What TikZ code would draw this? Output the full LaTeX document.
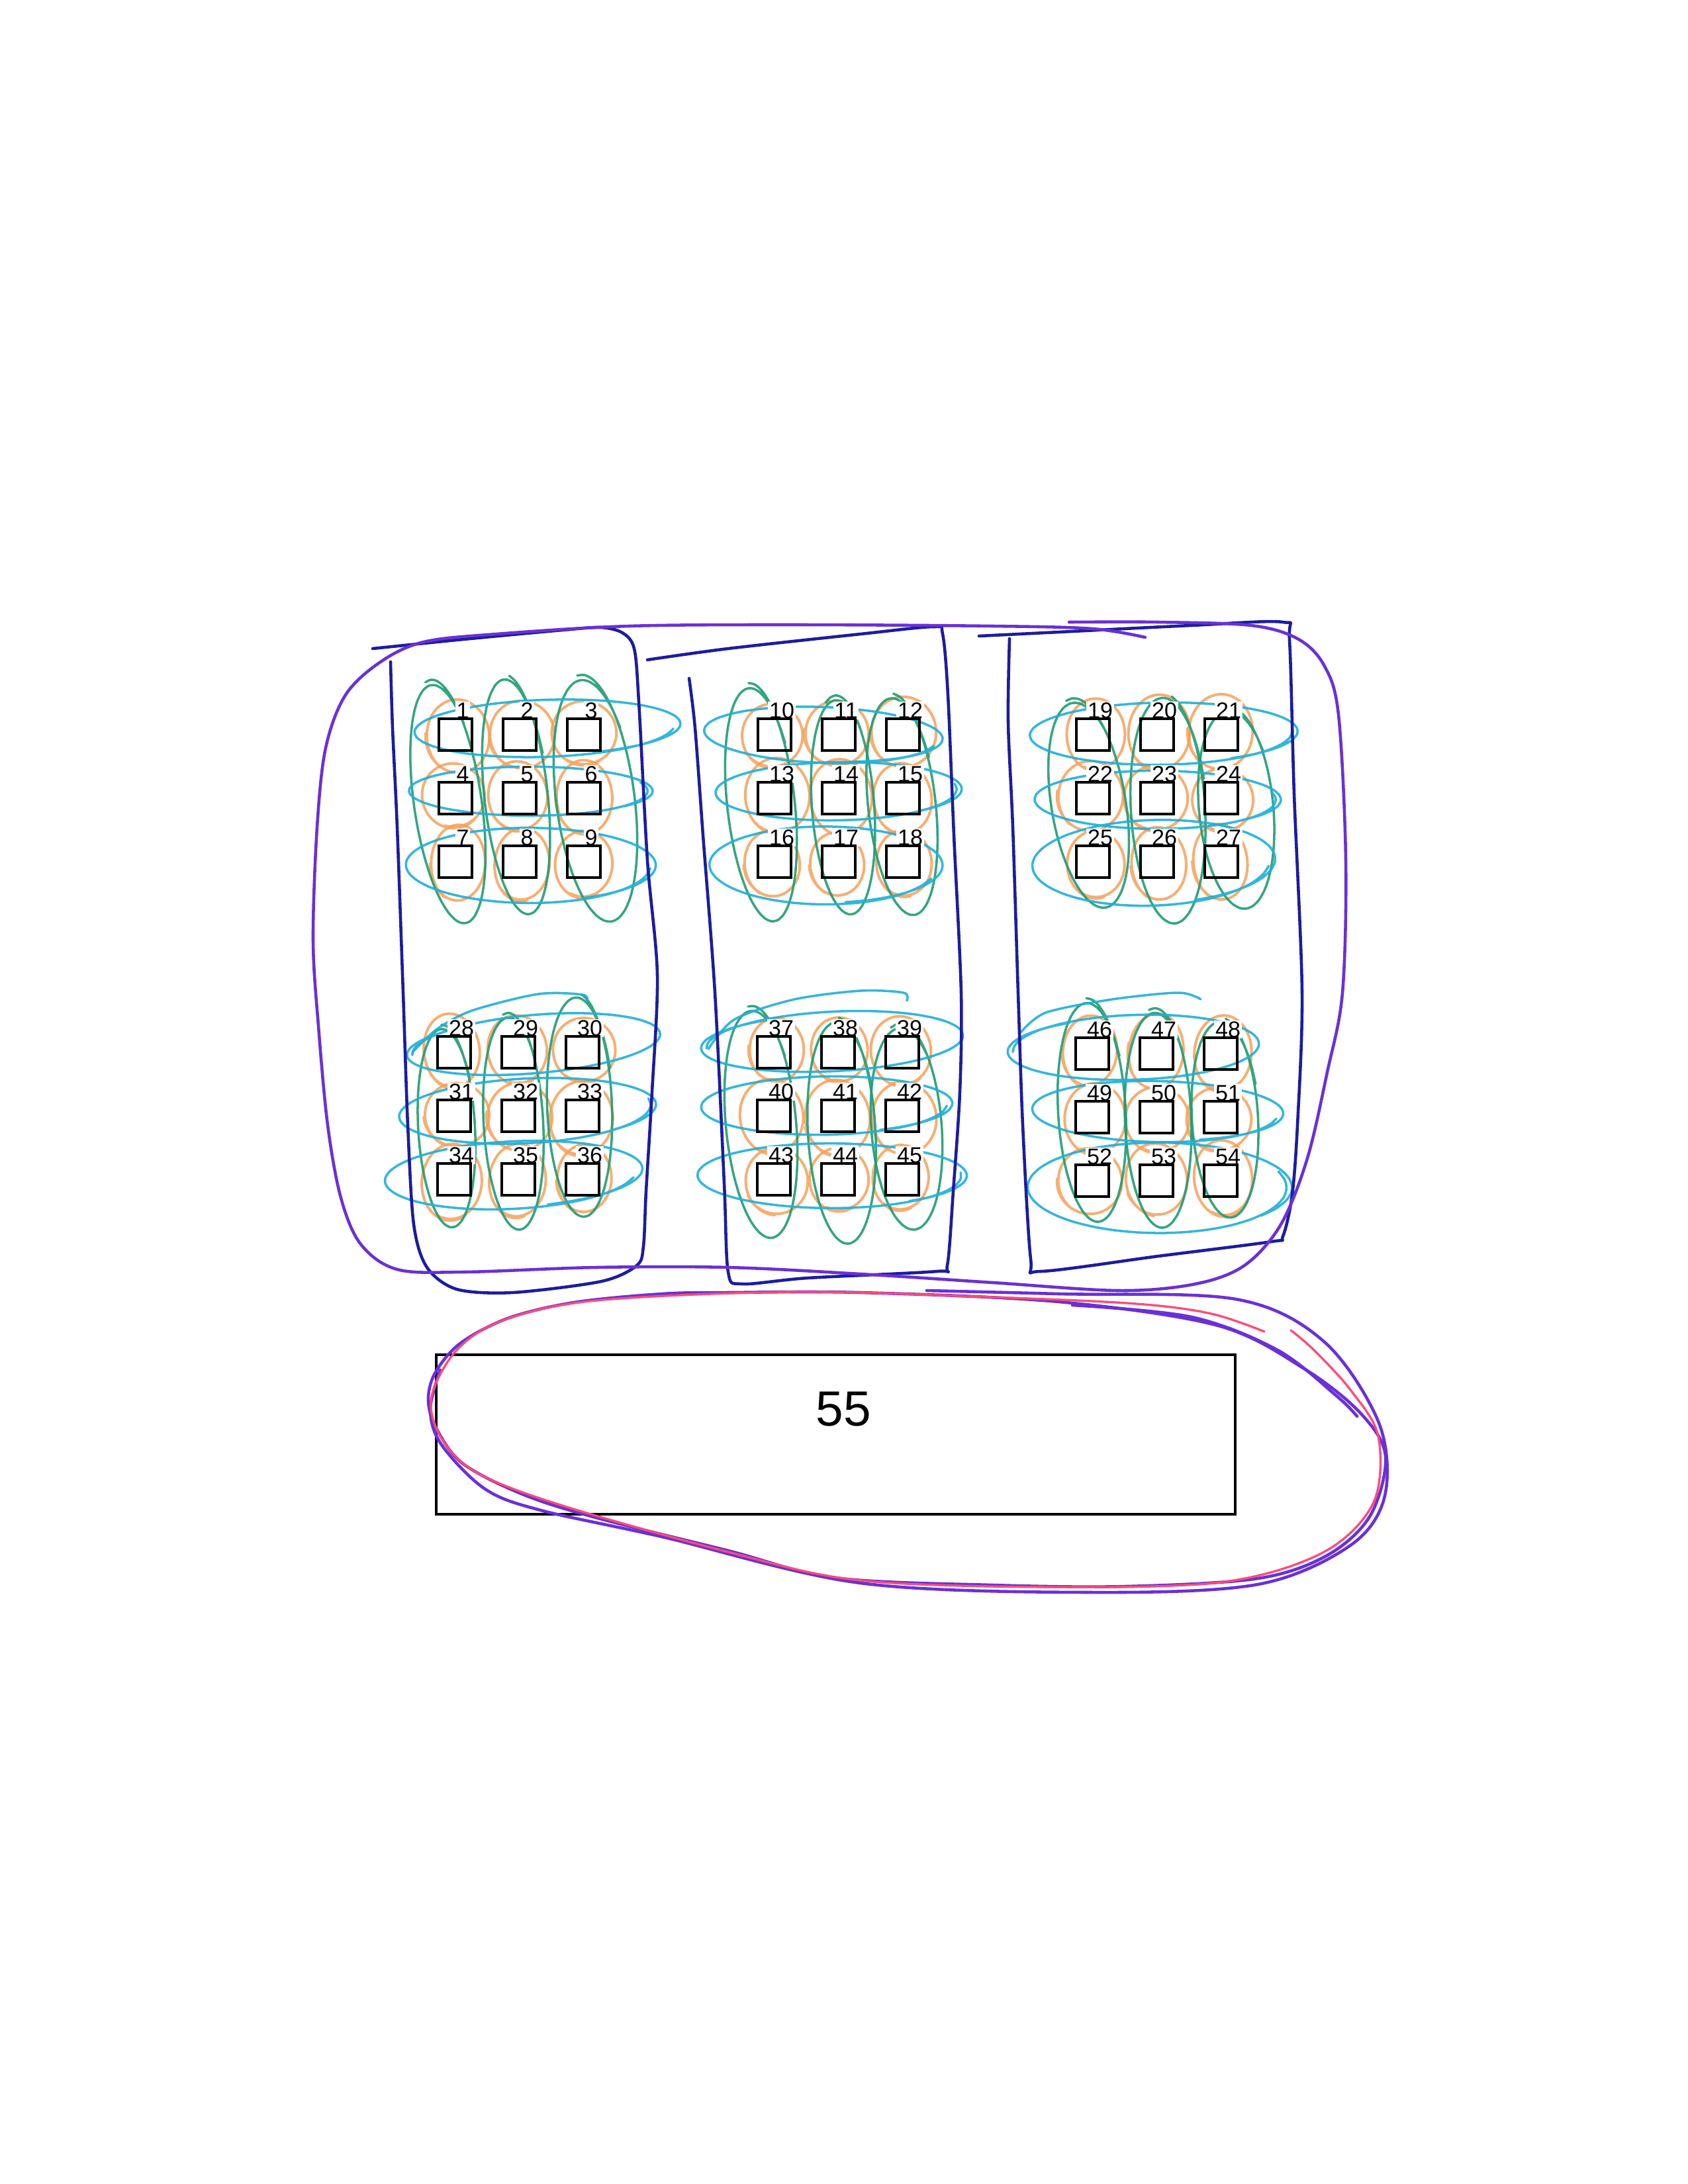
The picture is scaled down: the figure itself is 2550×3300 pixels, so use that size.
\documentclass[tikz,border=0pt]{standalone}
\usepackage{fontspec}
\setmainfont{Liberation Sans}
\definecolor{cnavy}{HTML}{1C1CA0}
\definecolor{cviolet}{HTML}{6A30D8}
\definecolor{cpink}{HTML}{FF4A78}
\definecolor{ccyan}{HTML}{1FAFD8}
\definecolor{corange}{HTML}{F6A05A}
\definecolor{cgreen}{HTML}{1E9C74}
% #1 style, #2 cx, #3 cy, #4 rx, #5 ry, #6 rotation, #7 start angle
\newcommand\scrib[7]{%
  \draw[#1, rotate around={#6:(#2,#3)}] plot[smooth, variable=\t, domain=#7:#7+420, samples=40]
    ({#2+#4*(1+0.05*(\t-#7)/420)*cos(\t)}, {#3+#5*(1-0.05*(\t-#7)/420)*sin(\t)});%
}
\begin{document}
\begin{tikzpicture}[x=0.084667mm, y=-0.084667mm,
  sqbox/.style={draw=black, line width=0.9pt, minimum width=4.23mm, minimum height=4.06mm, inner sep=0pt},
  lbl/.style={font=\fontsize{8.2}{9}\selectfont, fill=white, inner sep=0.4pt, anchor=base},
  navyline/.style={draw=cnavy, line width=1.1pt, line cap=round, line join=round},
  purpline/.style={draw=cviolet, line width=1.1pt, line cap=round, line join=round},
  pinkline/.style={draw=cpink, line width=0.8pt, line cap=round},
  cyanline/.style={draw=ccyan, line width=0.85pt, opacity=0.9, line cap=round},
  orgline/.style={draw=corange, line width=0.95pt, opacity=0.85, line cap=round},
  grnline/.style={draw=cgreen, line width=0.85pt, opacity=0.9, line cap=round},
]
\useasboundingbox (0,0) rectangle (2550,3300);
\fill[white] (0,0) rectangle (2550,3300);

% orange loops around each box
\foreach \gx/\gy/\n in {785/1206/0, 1267/1206/9, 1748/1206/18, 783/1686/27, 1266/1686/36, 1747/1688/45}{
  \foreach \r in {0,1,2}{
    \foreach \c in {0,1,2}{
      \pgfmathtruncatemacro\k{\n+3*\r+\c+1}
      \pgfmathsetmacro\ox{\gx+(\c-1)*97+4*sin(\k*61)}
      \pgfmathsetmacro\oy{\gy+(\r-1)*96+4*cos(\k*43)}
      \pgfmathsetmacro\orx{44+4*sin(\k*37)}
      \pgfmathsetmacro\ory{54+5*cos(\k*53)}
      \pgfmathsetmacro\orot{6*sin(\k*29)}
      \pgfmathsetmacro\ost{90+40*sin(\k*71)}
      \scrib{orgline}{\ox}{\oy}{\orx}{\ory}{\orot}{\ost}
    }
  }
}

% green vertical loops
\foreach \cx/\cy/\rx/\ry/\rot/\st in {
  677/1213/50/188/8/-100, 780/1202/47/184/6/-80, 900/1208/58/190/7/-95,
  1150/1214/50/183/6/-90, 1274/1218/46/168/4/-110, 1363/1217/50/170/6/-85,
  1645/1215/55/162/9/-100, 1765/1223/55/176/3/-75, 1868/1222/55/155/5/-95,
  675/1703/42/155/3/-90, 776/1696/44/166/3/-100, 876/1671/48/171/2/-80,
  1150/1697/52/178/5/-95, 1272/1710/50/173/3/-85, 1370/1704/52/158/4/-105,
  1650/1679/50/171/3/-90, 1750/1691/49/168/2/-100, 1851/1690/49/153/3/-80}{
  \scrib{grnline}{\cx}{\cy}{\rx}{\ry}{\rot}{\st}
}

% cyan horizontal loops
\foreach \cx/\cy/\rx/\ry/\rot/\st in {
  825/1100/195/44/2/10, 800/1195/178/38/0/-20, 800/1307/183/58/0/5,
  1242/1110/175/43/-2/15, 1265/1195/180/45/1/-10, 1246/1307/171/60/0/20,
  1756/1108/196/48/1/0, 1747/1208/180/45/0/-15, 1741/1303/178/66/2/10,
  808/1578/186/45/5/180, 795/1678/188/50/3/-10, 774/1775/189/52/3/15,
  1259/1574/192/46/3/180, 1247/1670/184/45/1/5, 1255/1776/197/50/0/-5,
  1714/1583/184/50/2/180, 1747/1679/184/47/-1/10, 1750/1794/193/70/0/-20}{
  \scrib{cyanline}{\cx}{\cy}{\rx}{\ry}{\rot}{\st}
}
% cyan flourishes above the lower groups
\draw[cyanline] plot[smooth] coordinates {(623,1590) (660,1555) (713,1527) (813,1502) (880,1503) (887,1513)};
\draw[cyanline] plot[smooth] coordinates {(1070,1585) (1110,1540) (1200,1510) (1300,1497) (1365,1500) (1370,1512)};
\draw[cyanline] plot[smooth] coordinates {(1542,1560) (1580,1530) (1680,1510) (1780,1500) (1814,1510)};

% navy column outlines
\draw[navyline] plot[smooth, tension=0.5] coordinates {(563,980) (700,966) (850,952) (907,948) (940,956) (958,980) (965,1060) (978,1300) (993,1473) (985,1650) (976,1800) (972,1883) (962,1912) (909,1936) (775,1953) (690,1948) (645,1915) (625,1850) (616,1700) (609,1500) (600,1250) (593,1100) (590,1000)};
\draw[navyline] plot[smooth, tension=0.5] coordinates {(978,997) (1100,980) (1300,958) (1410,947) (1424,958) (1432,1050) (1441,1262) (1452,1500) (1450,1650) (1440,1800) (1431,1912) (1415,1921) (1220,1931) (1121,1940) (1100,1922) (1094,1788) (1080,1500) (1062,1262) (1050,1100) (1041,1025)};
\draw[navyline] plot[smooth, tension=0.5] coordinates {(1479,961) (1600,955) (1800,945) (1938,940) (1948,968) (1955,1200) (1967,1500) (1960,1700) (1952,1806) (1938,1868) (1921,1876) (1750,1898) (1572,1921) (1557,1902) (1545,1700) (1538,1500) (1530,1250) (1523,1091) (1525,965)};

% violet outline around all columns
\draw[purpline] plot[smooth, tension=0.55] coordinates {(1730,963) (1650,950) (1500,946) (1200,944) (950,946) (750,958) (640,970) (575,1000) (522,1050) (492,1130) (479,1250) (473,1420) (481,1550) (495,1700) (515,1810) (545,1880) (600,1918) (700,1922) (900,1915) (1100,1915) (1300,1925) (1500,1938) (1691,1950) (1806,1940) (1880,1912) (1935,1850) (1975,1750) (2005,1620) (2028,1500) (2033,1300) (2022,1080) (2000,1005) (1960,965) (1890,945) (1750,940) (1615,940)};

% box 55
\node[sqbox, minimum width=102.19mm, minimum height=20.4mm] (b55) at (1262.5,2167.5) {};
\node[font=\fontsize{18}{20}\selectfont, inner sep=0pt] (l55) at (1274,2129) {55};

% loops around box 55
\draw[purpline] plot[smooth cycle, tension=0.55] coordinates {(1100,1953) (1000,1955) (867,1968) (767,1992) (695,2030) (657,2075) (647,2117) (660,2160) (700,2212) (790,2258) (900,2293) (1100,2343) (1262,2384) (1500,2395) (1700,2397) (1900,2385) (2005,2350) (2070,2290) (2093,2200) (2055,2135) (1970,2068) (1840,2003) (1600,1967) (1300,1953)};
\draw[purpline] plot[smooth, tension=0.55] coordinates {(1400,1950) (1600,1955) (1867,1963) (2000,2027) (2083,2150) (2092,2260) (2040,2335) (1900,2394) (1650,2406) (1300,2392) (1000,2322) (817,2282) (733,2250) (667,2183) (650,2130) (665,2070)};
\draw[pinkline] plot[smooth, tension=0.55] coordinates {(1910,2012) (1830,1985) (1717,1970) (1500,1960) (1200,1952) (900,1965) (760,1995) (690,2040) (652,2110) (665,2170) (720,2225) (850,2275) (1100,2345) (1300,2388) (1600,2398) (1850,2390) (2000,2345) (2075,2270) (2082,2170) (2040,2100) (1985,2040) (1950,2010)};
\draw[purpline] plot[smooth, tension=0.55] coordinates {(1620,1972) (1800,1990) (1930,2040) (2020,2110) (2050,2140)};

% labels and boxes
\foreach \gx/\gy/\n in {785/1206/0, 1267/1206/9, 1748/1206/18, 783/1686/27, 1266/1686/36, 1747/1688/45}{
  \foreach \r in {0,1,2}{
    \foreach \c in {0,1,2}{
      \pgfmathtruncatemacro\k{\n+3*\r+\c+1}
      \pgfmathsetmacro\bx{\gx+(\c-1)*97}
      \pgfmathsetmacro\by{\gy+(\r-1)*96}
      \node[lbl] (l\k) at (\bx+11,\by-25) {\k};
      \node[sqbox] (b\k) at (\bx,\by) {};
    }
  }
}
\end{tikzpicture}
\end{document}
